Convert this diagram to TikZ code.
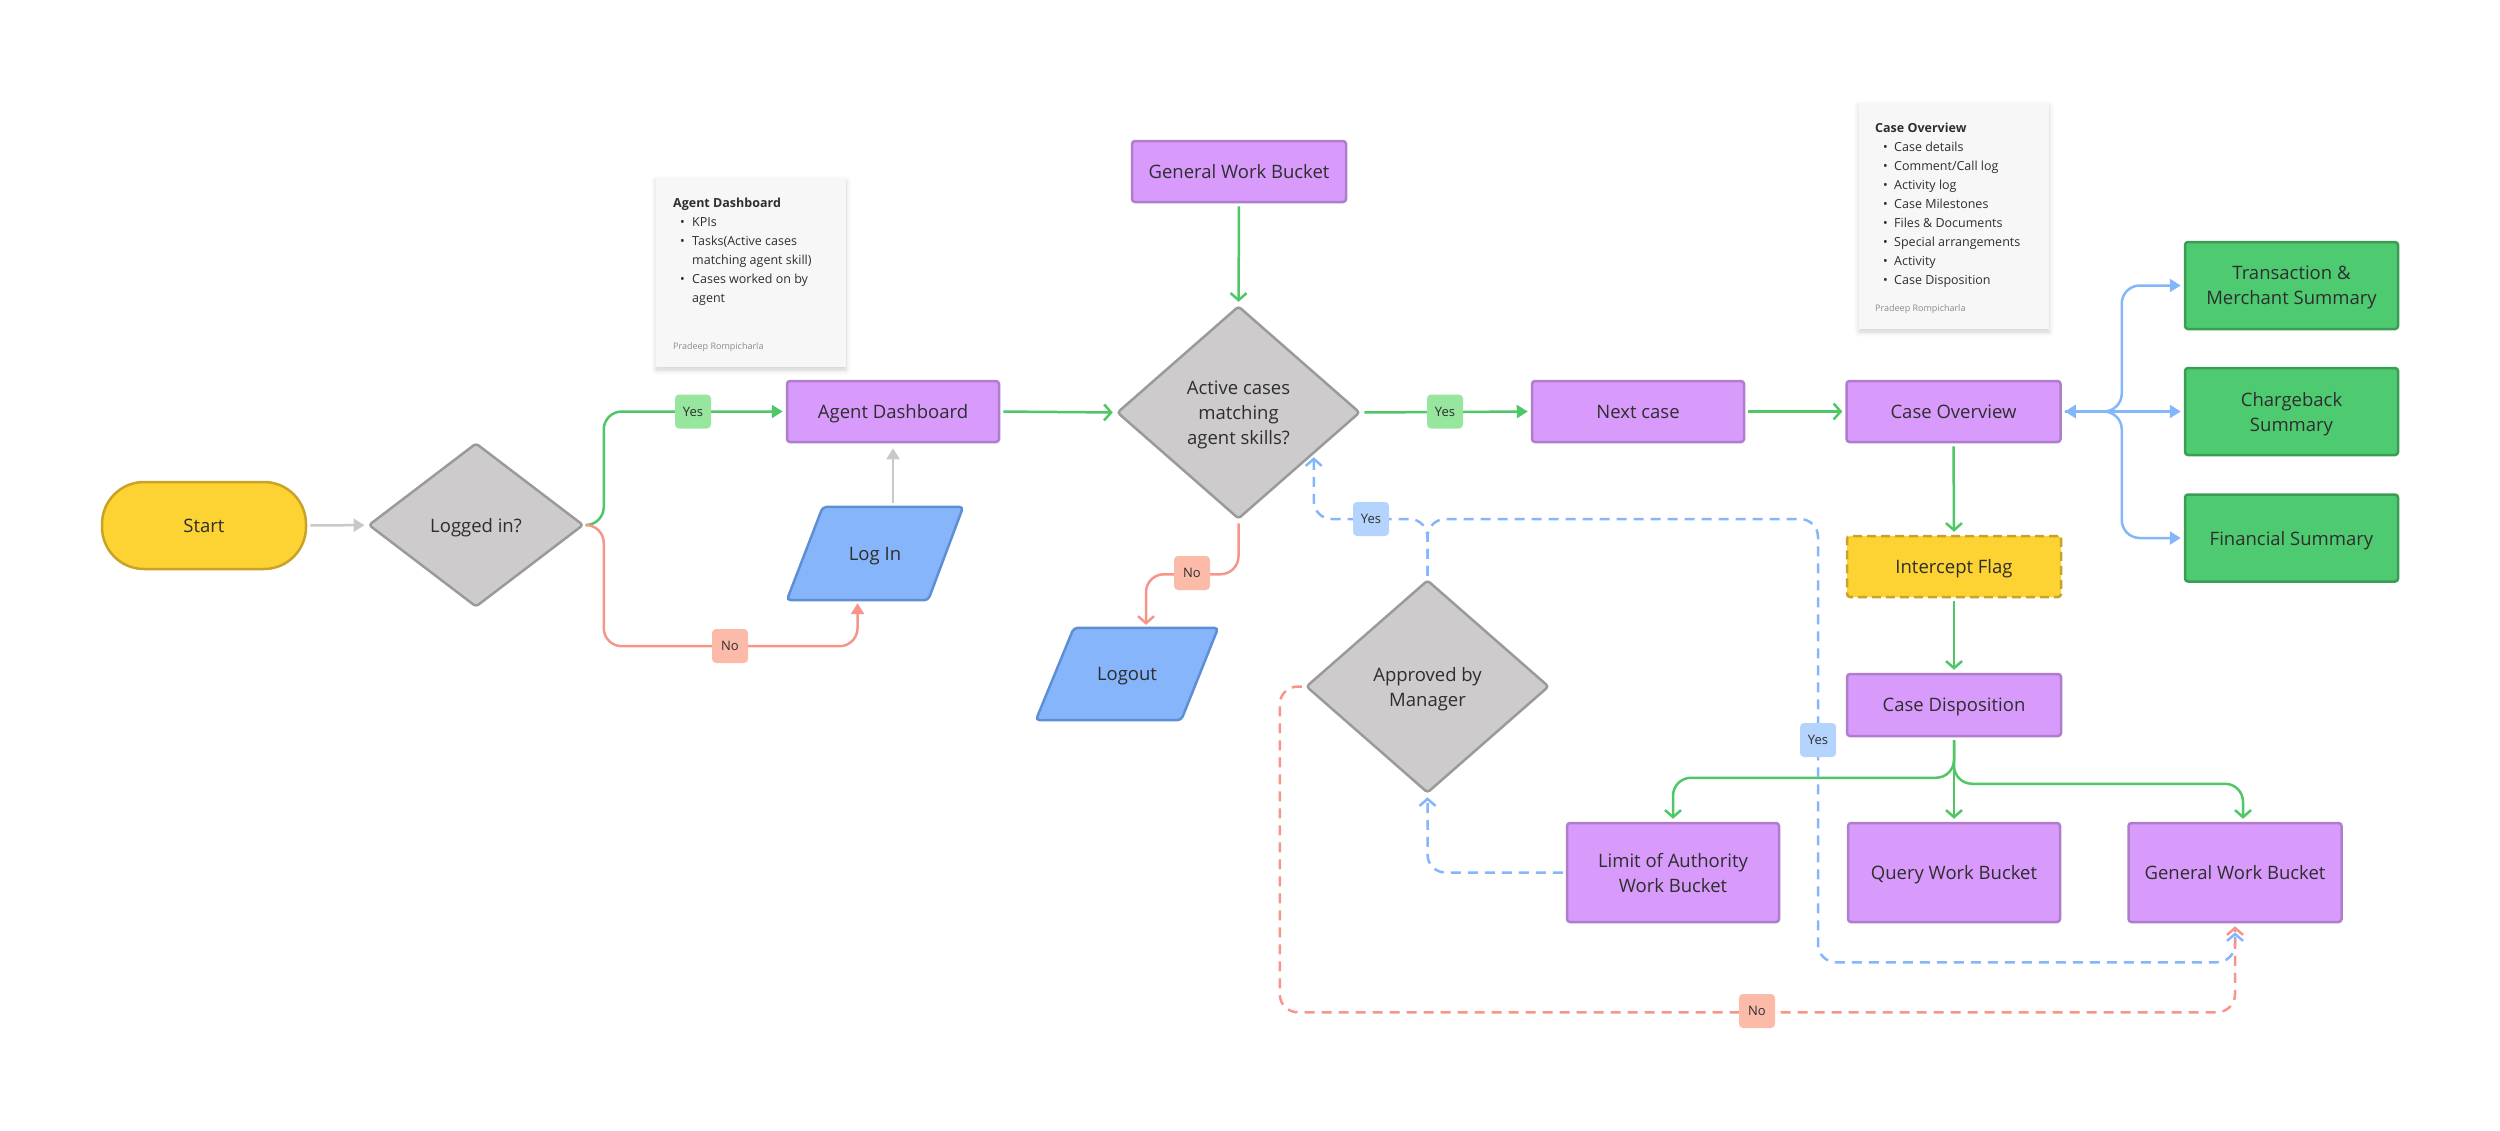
\documentclass[tikz,border=0pt]{standalone}
\usepackage{fontspec}
\setmainfont{Open Sans}
\usetikzlibrary{shapes.geometric,arrows.meta,calc,backgrounds,shadows.blur}
\definecolor{pfill}{HTML}{D89BFC}
\definecolor{pdraw}{HTML}{AE7DCD}
\definecolor{gfill}{HTML}{CDCBCB}
\definecolor{gdraw}{HTML}{9A9A9A}
\definecolor{yfill}{HTML}{FDD233}
\definecolor{ydraw}{HTML}{C9A226}
\definecolor{bfill}{HTML}{87B5FB}
\definecolor{bdraw}{HTML}{5E8FD4}
\definecolor{sfill}{HTML}{4ECB71}
\definecolor{sdraw}{HTML}{3A9C55}
\definecolor{lgr}{HTML}{4FC766}
\definecolor{lred}{HTML}{F8958A}
\definecolor{lblue}{HTML}{84B6FB}
\definecolor{lgray}{HTML}{C8C8C8}
\definecolor{labg}{HTML}{96E69D}
\definecolor{labr}{HTML}{FCBBA9}
\definecolor{labb}{HTML}{B4D3FD}
\definecolor{notef}{HTML}{F7F7F7}
\definecolor{txt}{HTML}{2E2E2E}
\definecolor{foot}{HTML}{8A8A8A}
\newcommand\mfont{\fontsize{18.5}{25}\selectfont}
\newcommand\nfont{\fontsize{12.5}{19}\selectfont}
\newcommand\tfont{\fontsize{12.5}{19}\selectfont\bfseries}
\newcommand\ffont{\fontsize{9}{11}\selectfont}
\newcommand\lfont{\fontsize{13}{15}\selectfont}
\begin{document}
\begin{tikzpicture}[x=1pt,y=-1pt,
  box/.style={rectangle, rounded corners=3pt, line width=2.5pt, align=center, text=txt, font=\mfont, inner sep=2pt, text depth=0pt},
  proc/.style={box, fill=pfill, draw=pdraw, minimum width=212pt, minimum height=61pt},
  tallproc/.style={proc, minimum height=99pt},
  summ/.style={box, fill=sfill, draw=sdraw, minimum width=213pt, minimum height=87pt},
  flagbox/.style={box, fill=yfill, draw=ydraw, dash pattern=on 9pt off 5pt, minimum width=214pt, minimum height=61pt},
  startbox/.style={box, rounded corners=42pt, fill=yfill, draw=ydraw, minimum width=204pt, minimum height=87pt},
  decision/.style={diamond, rounded corners=3pt, fill=gfill, draw=gdraw, line width=2.5pt, inner sep=0pt, align=center, text=txt, font=\mfont, text depth=0pt},
  iotext/.style={rectangle, inner sep=0pt, text=txt, font=\mfont, text depth=0pt},
  iofill/.style={fill=bfill, draw=bdraw, line width=2.5pt, rounded corners=4pt},
  note/.style={rectangle, fill=notef, minimum width=190pt, blur shadow={shadow xshift=0pt, shadow yshift=-3pt, shadow blur radius=5pt, shadow opacity=18}},
  ntitle/.style={inner sep=0pt, anchor=base west, font=\tfont, text=txt},
  nline/.style={inner sep=0pt, anchor=base west, font=\nfont, text=txt},
  nfoot/.style={inner sep=0pt, anchor=base west, font=\ffont, text=foot},
  lab/.style={rectangle, rounded corners=4pt, minimum width=36pt, minimum height=34pt, inner sep=0pt, font=\lfont, text=txt, text depth=0pt},
  conn/.style={line width=2.5pt, rounded corners=18pt, shorten >=3pt, shorten <=3pt},
  gline/.style={conn, draw=lgr},
  rline/.style={conn, draw=lred},
  bline/.style={conn, draw=lblue},
  grline/.style={conn, draw=lgray},
  dline/.style={dash pattern=on 10pt off 7pt},
  tri/.style={-{Triangle[length=11pt,width=13pt]}},
  barb/.style={-{Straight Barb[length=7pt,width=16pt]}}
]
\useasboundingbox (0,0) rectangle (2500,1130);

% sticky notes
\node[note, minimum height=189pt] (adnote) at (751,272.5) {};
\node[ntitle] (adt) at (673,207.5) {Agent Dashboard};
\node[nline] (ad1) at (680,226.5) {•};
\node[nline] (ad1t) at (692,226.5) {KPIs};
\node[nline] (ad2) at (680,245.5) {•};
\node[nline] (ad2t) at (692,245.5) {Tasks(Active cases};
\node[nline] (ad2u) at (692,264.5) {matching agent skill)};
\node[nline] (ad3) at (680,283.5) {•};
\node[nline] (ad3t) at (692,283.5) {Cases worked on by};
\node[nline] (ad3u) at (692,302.5) {agent};
\node[nfoot] (adf) at (673,349) {Pradeep Rompicharla};

\node[note, minimum height=226pt] (conote) at (1954,216) {};
\node[ntitle] (cot) at (1875,132.5) {Case Overview};
\node[nline] (co1b) at (1883,151.5) {•};
\node[nline] (co1) at (1894,151.5) {Case details};
\node[nline] (co2b) at (1883,170.5) {•};
\node[nline] (co2) at (1894,170.5) {Comment/Call log};
\node[nline] (co3b) at (1883,189.5) {•};
\node[nline] (co3) at (1894,189.5) {Activity log};
\node[nline] (co4b) at (1883,208.5) {•};
\node[nline] (co4) at (1894,208.5) {Case Milestones};
\node[nline] (co5b) at (1883,227.5) {•};
\node[nline] (co5) at (1894,227.5) {Files \& Documents};
\node[nline] (co6b) at (1883,246.5) {•};
\node[nline] (co6) at (1894,246.5) {Special arrangements};
\node[nline] (co7b) at (1883,265.5) {•};
\node[nline] (co7) at (1894,265.5) {Activity};
\node[nline] (co8b) at (1883,284.5) {•};
\node[nline] (co8) at (1894,284.5) {Case Disposition};
\node[nfoot] (cof) at (1875,311) {Pradeep Rompicharla};

% main nodes
\node[startbox] (start) at (204,525.5) {Start};
\node[decision, minimum width=215pt, minimum height=164pt] (logged) at (476,525) {Logged in?};
\node[proc] (dash) at (893,411.5) {Agent Dashboard};
\node[iotext, minimum width=176pt, minimum height=93pt] (login) at (875,553.5) {Log In};
\node[proc, minimum width=214pt] (gwb1) at (1239,171.5) {General Work Bucket};
\node[decision, minimum width=243pt, minimum height=213pt] (act) at (1238.5,412.5) {Active cases\\matching\\agent skills?};
\node[iotext, minimum width=182pt, minimum height=92pt] (logout) at (1127,674) {Logout};
\node[proc] (next) at (1638,411.5) {Next case};
\node[proc, minimum width=214pt] (co) at (1953.5,411.5) {Case Overview};
\node[flagbox] (intf) at (1954,566.5) {Intercept Flag};
\node[proc, minimum width=214pt, minimum height=62pt] (cd) at (1954,705) {Case Disposition};
\node[decision, minimum width=243pt, minimum height=213pt] (appr) at (1427.5,686.5) {Approved by\\Manager};
\node[tallproc] (loa) at (1673,872.5) {Limit of Authority\\Work Bucket};
\node[tallproc] (qwb) at (1954,872.5) {Query Work Bucket};
\node[tallproc, minimum width=213pt] (gwb2) at (2235,872.5) {General Work Bucket};
\node[summ] (tms) at (2291.5,285.5) {Transaction \&\\Merchant Summary};
\node[summ] (cbs) at (2291.5,411.5) {Chargeback\\Summary};
\node[summ] (fin) at (2291.5,538) {Financial Summary};

% parallelogram outlines
\begin{scope}[on background layer]
\path[iofill] ([xshift=36pt]login.north west) -- (login.north east) -- ([xshift=-35pt]login.south east) -- (login.south west) -- cycle;
\path[iofill] ([xshift=38pt]logout.north west) -- (logout.north east) -- ([xshift=-37pt]logout.south east) -- (logout.south west) -- cycle;
\end{scope}
\coordinate (loginT) at ($([xshift=36pt]login.north west)!0.5!(login.north east)$);
\coordinate (loginB) at ($(login.south west)!0.5!([xshift=-35pt]login.south east)$);
\coordinate (logoutT) at ($([xshift=38pt]logout.north west)!0.5!(logout.north east)$);
\coordinate (actIn) at (act.-29);

% label positions
\coordinate (yesApos) at (1371,519);
\coordinate (yesBpos) at (1818,740);

% connectors
\draw[grline, tri] (start) -- (logged);
\draw[gline, tri] (logged.east) -- ++(19,0) |- (dash.west);
\draw[rline, tri] (logged.east) -- ++(19,0) |- ($(loginB)+(0,46)$) -- (loginB);
\draw[grline, tri, shorten <=4pt, shorten >=5pt] (loginT) -- (loginT |- dash.south);
\draw[gline, barb] (dash.east) -- (act.west);
\draw[gline, barb] (gwb1.south) -- (act.north);
\draw[gline, tri] (act.east) -- (next.west);
\draw[rline, barb] (act.south) -- ++(0,54) -| (logoutT);
\draw[gline, barb] (next.east) -- (co.west);
\draw[gline, barb] (co.south) -- (intf.north);
\draw[gline, barb] (intf.south) -- (cd.north);
\draw[gline, barb] (cd.south) |- ($(loa.north)+(0,-44)$) -- (loa.north);
\draw[gline, barb] (cd.south) -- (qwb.north);
\draw[gline, barb] (cd.south) |- ($(gwb2.north)+(8,-38)$) -- ($(gwb2.north)+(8,0)$);
\draw[bline, tri] (co.east) -| ($(tms.west)+(-62,0)$) -- (tms.west);
\draw[bline, tri] (co.east) -| ($(fin.west)+(-62,0)$) -- (fin.west);
\draw[bline, {Triangle[length=11pt,width=13pt]}-{Triangle[length=11pt,width=13pt]}] (co.east) -- (cbs.west);
\draw[bline, dline, barb] (loa.west) -| (appr.south);
\draw[bline, dline, barb] (appr.north) |- (actIn |- yesApos) -- (actIn);
\draw[bline, dline, barb, shorten >=9pt] (appr.north) |- (yesBpos |- yesApos) |- ($(gwb2.south)+(0,39)$) -- (gwb2.south);
\draw[rline, dline, barb] (appr.west) -- ++(-25,0) |- ($(gwb2.south)+(0,89)$) -- (gwb2.south);

% labels
\node[lab, fill=labg] (yes1) at (693,411.5) {Yes};
\node[lab, fill=labr] (no1) at (730,646) {No};
\node[lab, fill=labg] (yes2) at (1445,411.5) {Yes};
\node[lab, fill=labr] (no2) at (1192,573) {No};
\node[lab, fill=labb] (yesA) at (yesApos) {Yes};
\node[lab, fill=labb] (yesB) at (yesBpos) {Yes};
\node[lab, fill=labr] (no3) at (1757,1011) {No};
\end{tikzpicture}
\end{document}
